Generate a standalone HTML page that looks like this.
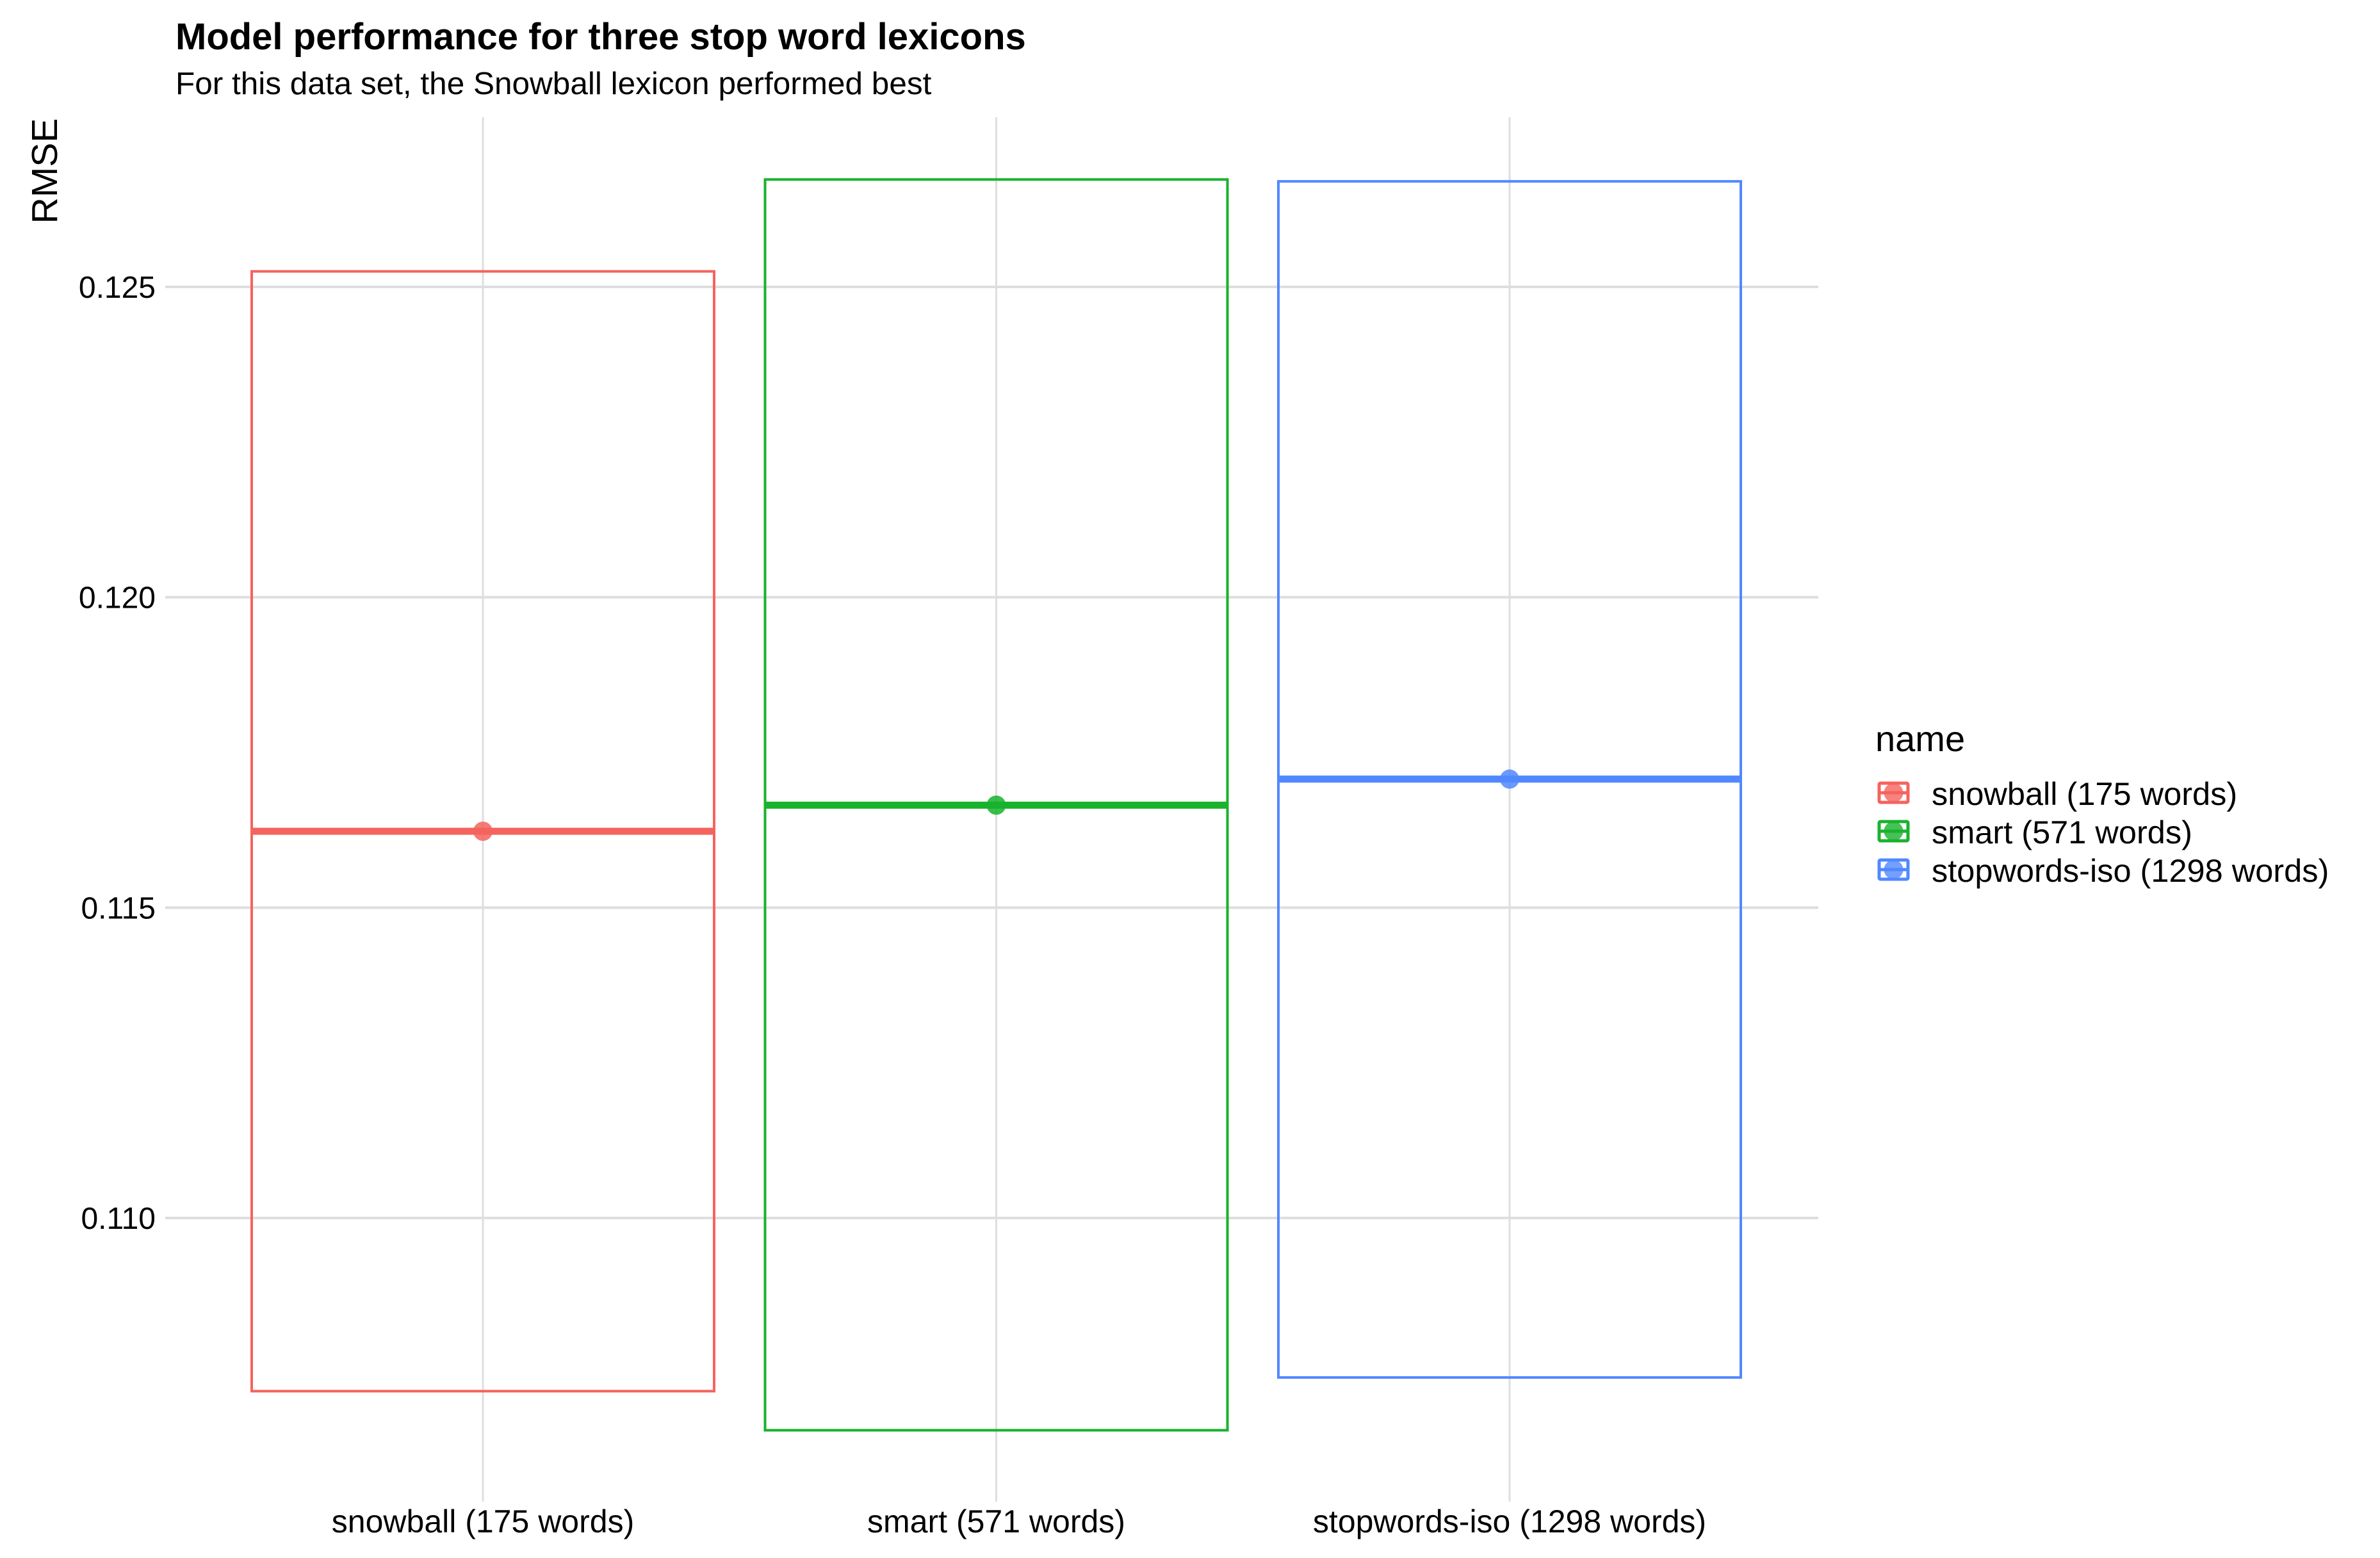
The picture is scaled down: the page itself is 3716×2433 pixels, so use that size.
<!DOCTYPE html>
<html><head><meta charset="utf-8"><style>
html,body{margin:0;padding:0;background:#fff;}
svg{display:block;font-family:"Liberation Sans",Arial,sans-serif;}
</style></head><body>
<svg id="chart" width="3716" height="2433" viewBox="0 0 3716 2433" xmlns="http://www.w3.org/2000/svg">
<rect width="3716" height="2433" fill="#fff"/>
<text x="274" y="77" font-size="58" font-weight="bold" fill="#000">Model performance for three stop word lexicons</text>
<text x="274" y="147" font-size="49.5" fill="#000">For this data set, the Snowball lexicon performed best</text>
<text transform="translate(89,267) rotate(-90)" text-anchor="middle" font-size="57" fill="#000">RMSE</text>
<g id="grid"></g>
<g id="marks"></g>
<g id="axes"></g>
<g id="legend"></g>
</svg>
<script>
const categories = ["snowball (175 words)", "smart (571 words)", "stopwords-iso (1298 words)"];
const meanValues = [0.11623, 0.11665, 0.11707];
const upperValues = [0.12525, 0.12673, 0.12670];
const lowerValues = [0.10721, 0.10658, 0.10743];
const yTicks = [0.110, 0.115, 0.120, 0.125];
const yTickLabels = ["0.110", "0.115", "0.120", "0.125"];
const colors = ["#F5635E", "#19B22D", "#5088FF"];

const NS = "http://www.w3.org/2000/svg";
const panelLeft = 258, panelRight = 2839, panelTop = 183, panelBottom = 2345;
function yScale(v){ return 448 + (0.125 - v) * 96933; }
function xScale(i){ return 754 + i * 801.5; }
const halfW = 361;
function mk(tag, attrs, parent){ const e = document.createElementNS(NS, tag); for (const k in attrs) e.setAttribute(k, attrs[k]); parent.appendChild(e); return e; }

const grid = document.getElementById('grid');
const marks = document.getElementById('marks');
const axes = document.getElementById('axes');
const legend = document.getElementById('legend');

yTicks.forEach((t, i) => {
  const y = yScale(t);
  const l = mk('line', {x1: panelLeft, x2: panelRight, y1: y, y2: y, stroke: '#dedede', 'stroke-width': 4}, grid);
  
  
  const tx = mk('text', {x: 243, y: y + 17, 'text-anchor': 'end', 'font-size': 48, fill: '#000'}, axes);
  tx.textContent = yTickLabels[i];
  
  
});

categories.forEach((c, i) => {
  const x = xScale(i);
  const g = mk('line', {x1: x, x2: x, y1: panelTop, y2: panelBottom, stroke: '#dedede', 'stroke-width': 3}, grid);
  
  
  const tx = mk('text', {x: x, y: 2393, 'text-anchor': 'middle', 'font-size': 50, fill: '#000'}, axes);
  tx.textContent = c;
  
  

  const yt = yScale(upperValues[i]), yb = yScale(lowerValues[i]), ym = yScale(meanValues[i]);
  const r = mk('rect', {x: x - halfW, y: yt, width: 2 * halfW, height: yb - yt, fill: 'none', stroke: colors[i], 'stroke-width': 4}, marks);
  
  
  const m = mk('line', {x1: x - halfW, x2: x + halfW, y1: ym, y2: ym, stroke: colors[i], 'stroke-width': 11}, marks);
  
  
  const p = mk('circle', {cx: x, cy: ym, r: 15, fill: colors[i], 'fill-opacity': 0.85}, marks);
  
  
});

const lt = mk('text', {x: 2928, y: 1173, 'font-size': 56, fill: '#000'}, legend);
lt.textContent = 'name';


categories.forEach((c, i) => {
  const ky = 1221 + i * 60;
  const g = mk('g', {}, legend);
  
  
  mk('rect', {x: 2934, y: ky + 2, width: 45, height: 30, fill: '#fff', stroke: colors[i], 'stroke-width': 5, rx: 2}, g);
  mk('circle', {cx: 2956.5, cy: ky + 17, r: 15, fill: colors[i], 'fill-opacity': 0.8}, g);
  mk('line', {x1: 2934, x2: 2979, y1: ky + 17, y2: ky + 17, stroke: colors[i], 'stroke-width': 5}, g);
  const t = mk('text', {x: 3016, y: ky + 36, 'font-size': 50.5, fill: '#000'}, g);
  t.textContent = c;
  
  
});
</script>
</body></html>
